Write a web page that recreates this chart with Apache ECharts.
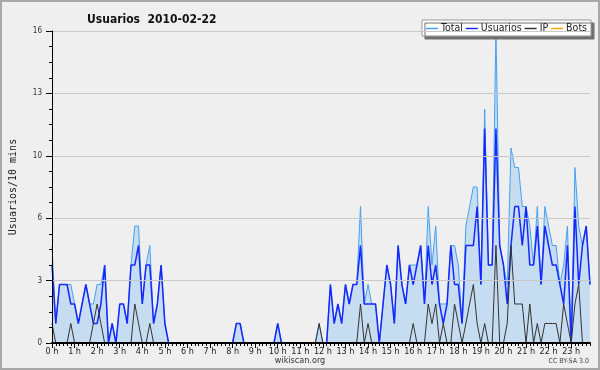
<!DOCTYPE html>
<html>
<head>
<meta charset="utf-8">
<script src="https://cdn.jsdelivr.net/npm/echarts@6/dist/echarts.min.js"></script>
<style>
  html, body { margin: 0; padding: 0; background: #efefef; }
  #chart { width: 600px; height: 370px; }
</style>
</head>
<body>
<div id="chart"></div>
<script>
// one value per 10 minutes, six per row = one hour
const hourLabels = ['0 h', '1 h', '2 h', '3 h', '4 h', '5 h', '6 h', '7 h', '8 h', '9 h', '10 h', '11 h',
  '12 h', '13 h', '14 h', '15 h', '16 h', '17 h', '18 h', '19 h', '20 h', '21 h', '22 h', '23 h'];

const total = [
  5, 1, 3, 3, 3, 3,
  2, 1, 2, 3, 2, 2,
  3, 3, 4, 0, 1, 0,
  2, 2, 1, 4, 6, 6,
  2, 4, 5, 1, 2, 4,
  1, 0, 0, 0, 0, 0,
  0, 0, 0, 0, 0, 0,
  0, 0, 0, 0, 0, 0,
  0, 1, 1, 0, 0, 0,
  0, 0, 0, 0, 0, 0,
  1, 0, 0, 0, 0, 0,
  0, 0, 0, 0, 0, 1,
  0, 0, 3, 1, 2, 1,
  3, 2, 3, 3, 7, 2,
  3, 2, 2, 0, 2, 4,
  3, 1, 5, 3, 2, 4,
  4, 4, 5, 2, 7, 4,
  6, 2, 2, 2, 5, 5,
  4, 1, 6, 7, 8, 8,
  3, 12, 4, 4, 16, 5,
  4, 3, 10, 9, 9, 7,
  7, 6, 4, 7, 3, 7,
  6, 5, 5, 3, 4, 6,
  0, 9, 6, 5, 6, 3
];

const usuarios = [
  4, 1, 3, 3, 3, 2,
  2, 1, 2, 3, 2, 1,
  1, 2, 4, 0, 1, 0,
  2, 2, 1, 4, 4, 5,
  2, 4, 4, 1, 2, 4,
  1, 0, 0, 0, 0, 0,
  0, 0, 0, 0, 0, 0,
  0, 0, 0, 0, 0, 0,
  0, 1, 1, 0, 0, 0,
  0, 0, 0, 0, 0, 0,
  1, 0, 0, 0, 0, 0,
  0, 0, 0, 0, 0, 0,
  0, 0, 3, 1, 2, 1,
  3, 2, 3, 3, 5, 2,
  2, 2, 2, 0, 2, 4,
  3, 1, 5, 3, 2, 4,
  3, 4, 5, 2, 5, 3,
  4, 2, 1, 2, 5, 3,
  3, 1, 5, 5, 5, 7,
  3, 11, 4, 4, 11, 5,
  4, 2, 5, 7, 7, 5,
  7, 4, 4, 6, 3, 6,
  5, 4, 4, 3, 2, 5,
  0, 7, 3, 5, 6, 3
];

const ip = [
  1, 0, 0, 0, 0, 1,
  0, 0, 0, 0, 0, 1,
  2, 1, 0, 0, 0, 0,
  0, 0, 0, 0, 2, 1,
  0, 0, 1, 0, 0, 0,
  0, 0, 0, 0, 0, 0,
  0, 0, 0, 0, 0, 0,
  0, 0, 0, 0, 0, 0,
  0, 0, 0, 0, 0, 0,
  0, 0, 0, 0, 0, 0,
  0, 0, 0, 0, 0, 0,
  0, 0, 0, 0, 0, 1,
  0, 0, 0, 0, 0, 0,
  0, 0, 0, 0, 2, 0,
  1, 0, 0, 0, 0, 0,
  0, 0, 0, 0, 0, 0,
  1, 0, 0, 0, 2, 1,
  2, 0, 1, 0, 0, 2,
  1, 0, 1, 2, 3, 1,
  0, 1, 0, 0, 5, 0,
  0, 1, 5, 2, 2, 2,
  0, 2, 0, 1, 0, 1,
  1, 1, 1, 0, 2, 1,
  0, 2, 3, 0, 0, 0
];

const bots = [
  0, 0, 0, 0, 0, 0,  0, 0, 0, 0, 0, 0,  0, 0, 0, 0, 0, 0,  0, 0, 0, 0, 0, 0,
  0, 0, 0, 0, 0, 0,  0, 0, 0, 0, 0, 0,  0, 0, 0, 0, 0, 0,  0, 0, 0, 0, 0, 0,
  0, 0, 0, 0, 0, 0,  0, 0, 0, 0, 0, 0,  0, 0, 0, 0, 0, 0,  0, 0, 0, 0, 0, 0,
  0, 0, 0, 0, 0, 0,  0, 0, 0, 0, 0, 0,  0, 0, 0, 0, 0, 0,  0, 0, 0, 0, 0, 0,
  0, 0, 0, 0, 0, 0,  0, 0, 0, 0, 0, 0,  0, 0, 0, 0, 0, 0,  0, 0, 0, 0, 0, 0,
  0, 0, 0, 0, 0, 0,  0, 0, 0, 0, 0, 0,  0, 0, 0, 0, 0, 0,  0, 0, 0, 0, 0, 0
];

// category slots: hour index + minute
const slots = total.map((v, i) => Math.floor(i / 6) + ':' + (i % 6) + '0');

const font = '"DejaVu Sans Condensed", "DejaVu Sans", sans-serif';
const black = '#000';

const chart = echarts.init(document.getElementById('chart'));

chart.setOption({
  animation: false,
  backgroundColor: '#efefef',
  title: {
    text: 'Usuarios  2010-02-22',
    left: 82,
    top: 9,
    textStyle: { fontFamily: font, fontWeight: 'bold', fontSize: 12, color: '#111' }
  },
  legend: {
    right: 9,
    top: 20,
    data: ['Total', 'Usuarios', 'IP', 'Bots'],
    icon: 'rect',
    itemWidth: 12,
    itemHeight: 1.5,
    itemGap: 3,
    padding: [3, 4, 2, 4],
    backgroundColor: '#fff',
    borderColor: '#999',
    borderWidth: 1,
    shadowColor: '#707070',
    shadowOffsetX: 3,
    shadowOffsetY: 3,
    shadowBlur: 0,
    textStyle: { fontFamily: font, fontSize: 10.5, color: '#222', padding: [0, 0, 0, -2] }
  },
  grid: { left: 46, top: 31, width: 544, height: 312 },
  xAxis: [
    {
      type: 'category',
      data: slots,
      boundaryGap: false,
      z: 5,
      axisLine: { lineStyle: { color: black, width: 2 } },
      axisTick: { interval: 0, length: 3, lineStyle: { color: black } },
      axisLabel: {
        interval: 5,
        margin: 4,
        fontFamily: font,
        fontSize: 9,
        color: '#222',
        formatter: (v, i) => hourLabels[Math.floor(i / 6)]
      },
      splitLine: { show: false }
    },
    {
      type: 'category',
      data: slots,
      boundaryGap: false,
      position: 'bottom',
      z: 5,
      axisLine: { show: false },
      axisTick: { interval: 5, length: 5, lineStyle: { color: black } },
      axisLabel: { show: false },
      splitLine: { show: false }
    }
  ],
  yAxis: {
    type: 'value',
    min: 0,
    max: 16,
    interval: 3.2,
    z: 5,
    name: 'Usuarios/10 mins',
    nameLocation: 'middle',
    nameGap: 34,
    nameRotate: 90,
    nameTextStyle: { fontFamily: '"DejaVu Sans Mono", monospace', fontSize: 10, color: '#222' },
    axisLine: { show: true, lineStyle: { color: black } },
    axisTick: { show: true, length: 6, lineStyle: { color: black } },
    minorTick: { show: true, splitNumber: 4, length: 3, lineStyle: { color: black } },
    axisLabel: {
      margin: 10,
      fontFamily: font,
      fontSize: 8,
      color: '#333',
      formatter: v => Math.round(v)
    },
    splitLine: { lineStyle: { color: '#c8c8c8' } }
  },
  series: [
    {
      name: 'Bots',
      type: 'line',
      data: bots,
      showSymbol: false,
      color: '#ffa500',
      lineStyle: { width: 1 },
      z: 0
    },
    {
      name: 'Total',
      type: 'line',
      data: total,
      showSymbol: false,
      color: '#45a0f0',
      lineStyle: { width: 1 },
      areaStyle: { color: '#c6dcf0', opacity: 1 },
      z: 1
    },
    {
      name: 'Usuarios',
      type: 'line',
      data: usuarios,
      showSymbol: false,
      color: '#1428ff',
      lineStyle: { width: 1.5 },
      z: 2
    },
    {
      name: 'IP',
      type: 'line',
      data: ip,
      showSymbol: false,
      color: '#333',
      lineStyle: { width: 1 },
      z: 2
    }
  ],
  graphic: [
    {
      type: 'rect',
      shape: { x: 1, y: 1, width: 598, height: 368 },
      style: { fill: 'none', stroke: '#a8a8a8', lineWidth: 2 },
      silent: true
    },
    {
      type: 'text',
      left: 'center',
      top: 356,
      style: { text: 'wikiscan.org', fontFamily: font, fontSize: 9, fill: '#333' }
    },
    {
      type: 'text',
      right: 11,
      top: 358,
      style: { text: 'CC BY-SA 3.0', fontFamily: font, fontSize: 7, fill: '#444' }
    }
  ]
});
</script>
</body>
</html>
